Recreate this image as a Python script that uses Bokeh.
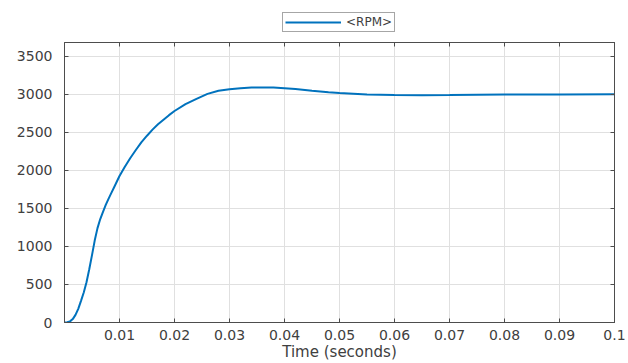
from bokeh.plotting import figure
from bokeh.layouts import column
from bokeh.models import Range1d, LinearAxis, FixedTicker, Legend, LegendItem
from bokeh.embed import file_html
from bokeh.resources import INLINE

# ---- data ----
time_s = [0.0, 0.0005, 0.001, 0.0015, 0.002, 0.0025, 0.003, 0.0035, 0.004, 0.0045,
          0.005, 0.0055, 0.006, 0.0065, 0.007, 0.0075, 0.008, 0.0085, 0.009, 0.0095,
          0.010, 0.011, 0.012, 0.013, 0.014, 0.015, 0.016, 0.017, 0.018, 0.019,
          0.020, 0.022, 0.024, 0.026, 0.028, 0.030, 0.032, 0.034, 0.036, 0.038,
          0.040, 0.042, 0.045, 0.048, 0.050, 0.055, 0.060, 0.065, 0.070, 0.075,
          0.080, 0.090, 0.100]
rpm = [0, 3, 15, 45, 100, 180, 285, 395, 530, 700,
       885, 1080, 1240, 1360, 1455, 1545, 1625, 1700, 1775, 1850,
       1925, 2050, 2165, 2270, 2370, 2455, 2535, 2605, 2665, 2725,
       2780, 2870, 2940, 3005, 3045, 3067, 3080, 3088, 3090, 3087,
       3080, 3068, 3045, 3025, 3015, 2998, 2990, 2988, 2989, 2992,
       2995, 2998, 3000]

series_name = "<RPM>"
x_label = "Time (seconds)"
x_ticks = [0.01, 0.02, 0.03, 0.04, 0.05, 0.06, 0.07, 0.08, 0.09, 0.1]
x_tick_labels = ["0.01", "0.02", "0.03", "0.04", "0.05", "0.06", "0.07", "0.08", "0.09", "0.1"]
y_ticks = [0, 500, 1000, 1500, 2000, 2500, 3000, 3500]
y_tick_labels = ["0", "500", "1000", "1500", "2000", "2500", "3000", "3500"]
x_limits = (0.0, 0.1)
y_limits = (0, 3680)

# ---- styles ----
LINE_COLOR = "#0072BD"
AXIS_COLOR = "#4d4d4d"
TEXT_COLOR = "#404040"
GRID_COLOR = "#e0e0e0"
FONT = "DejaVu Sans"
W = 628

# ---- main plot ----
p = figure(width=W, height=329, title=None,
           x_range=Range1d(*x_limits), y_range=Range1d(*y_limits),
           output_backend="svg", toolbar_location=None,
           min_border_left=64, min_border_right=14,
           min_border_top=8, min_border_bottom=41,
           x_axis_label=x_label)

r = p.line(time_s, rpm, line_color=LINE_COLOR, line_width=2)

p.background_fill_color = "white"
p.border_fill_color = "white"
p.outline_line_color = AXIS_COLOR
p.outline_line_width = 1

xa = p.xaxis[0]
xa.ticker = FixedTicker(ticks=x_ticks)
xa.major_label_overrides = {t: l for t, l in zip(x_ticks, x_tick_labels)}
ya = p.yaxis[0]
ya.ticker = FixedTicker(ticks=y_ticks)
ya.major_label_overrides = {t: l for t, l in zip(y_ticks, y_tick_labels)}

for ax in (xa, ya):
    ax.major_tick_in = 4
    ax.major_tick_out = 0
    ax.minor_tick_line_color = None
    ax.axis_line_color = AXIS_COLOR
    ax.major_tick_line_color = AXIS_COLOR
    ax.major_label_text_font = FONT
    ax.major_label_text_font_size = "14px"
    ax.major_label_text_color = TEXT_COLOR
    ax.axis_label_text_font = FONT
    ax.axis_label_text_font_size = "15px"
    ax.axis_label_text_font_style = "normal"
    ax.axis_label_text_color = TEXT_COLOR

xa.major_label_standoff = 7
xa.axis_label_standoff = 0
ya.major_label_standoff = 12

# top and right axes: ticks only (boxed frame)
def tick_only_axis(ticks):
    return LinearAxis(ticker=FixedTicker(ticks=ticks),
                      major_label_text_font_size="0px", major_label_text_color=None,
                      major_label_standoff=0, major_tick_in=4, major_tick_out=0,
                      minor_tick_line_color=None, axis_line_color=AXIS_COLOR,
                      major_tick_line_color=AXIS_COLOR)

p.add_layout(tick_only_axis(x_ticks), "above")
p.add_layout(tick_only_axis(y_ticks), "right")

p.xgrid.ticker = FixedTicker(ticks=x_ticks)
p.ygrid.ticker = FixedTicker(ticks=y_ticks)
p.grid.grid_line_color = GRID_COLOR
p.grid.grid_line_width = 1

# ---- legend strip above the plot (same series, ranges keep it out of view) ----
lg = figure(width=W, height=34, title=None,
            x_range=Range1d(*x_limits), y_range=Range1d(-2, -1),
            x_axis_type=None, y_axis_type=None,
            output_backend="svg", toolbar_location=None, min_border=0)
lg.outline_line_color = None
lg.background_fill_color = "white"
lg.border_fill_color = "white"
sample = lg.line(time_s, rpm, line_color=LINE_COLOR, line_width=2)

legend = Legend(items=[LegendItem(label=series_name, renderers=[sample])],
                location=(218, 2), orientation="horizontal",
                padding=2, spacing=0, margin=0,
                glyph_width=56, glyph_height=10, label_height=10,
                label_standoff=5,
                label_text_font=FONT, label_text_font_size="12px",
                label_text_color=TEXT_COLOR,
                border_line_color=AXIS_COLOR, border_line_width=1,
                background_fill_color="white", background_fill_alpha=1)
lg.add_layout(legend, "center")

layout = column(lg, p, spacing=0)
open("out.html", "w").write(file_html(layout, INLINE))
